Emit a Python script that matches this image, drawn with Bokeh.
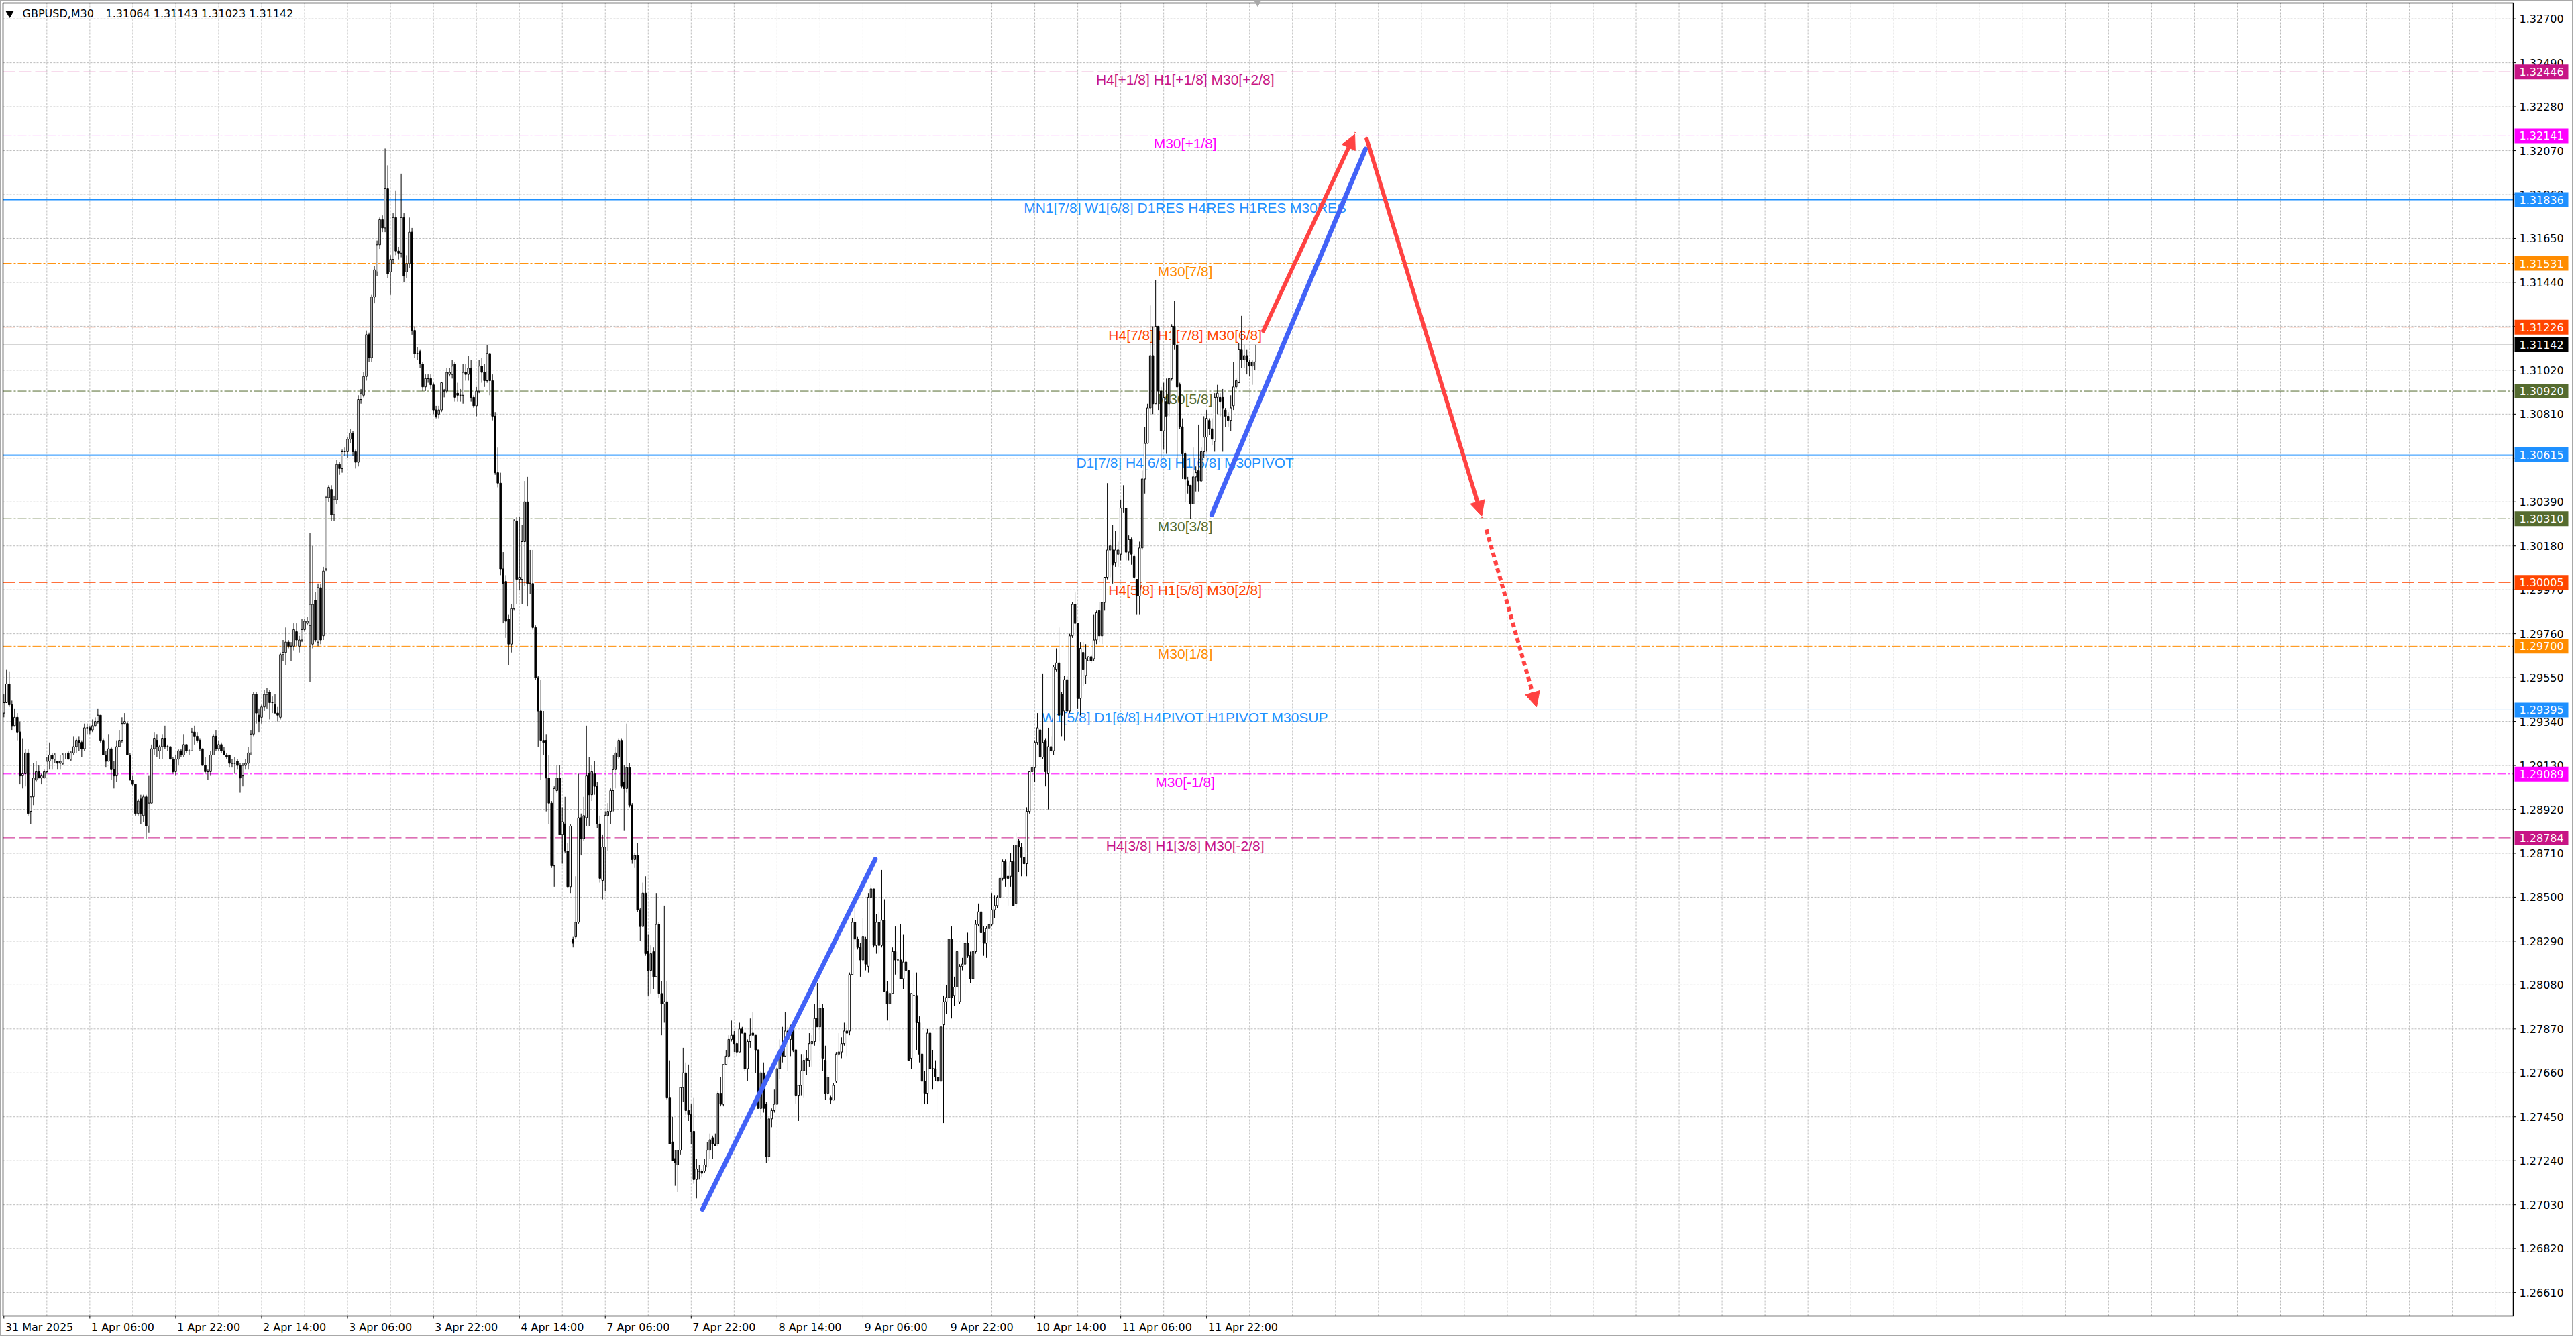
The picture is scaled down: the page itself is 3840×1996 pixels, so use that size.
from bokeh.plotting import figure
from bokeh.models import Range1d, ColumnDataSource, Arrow, NormalHead
from bokeh.core.properties import value
from bokeh.embed import file_html
from bokeh.resources import INLINE

# ---------------- data ----------------
BASE = 1.2
PIP = 0.0001
# M30 bars, (open, high, low, close) in pips above 1.2000
week1_ohlc = [
    # 0
    (938,947,936,943),(943,959,943,952),(952,958,941,942),(942,944,930,932),(932,940,932,936),(936,938,925,929),(929,934,904,908),(908,926,902,909),(909,921,903,919),(919,921,889,890),
    # 10
    (891,898,885,898),(898,914,894,907),(906,915,905,910),(910,913,907,907),(907,909,904,908),(907,911,907,910),(910,917,909,915),(915,924,911,918),(918,919,911,916),(916,919,914,918),
    # 20
    (915,915,911,914),(914,918,911,915),(914,919,913,918),(918,919,916,918),(919,920,916,916),(916,920,915,919),(919,927,918,922),(922,926,919,925),(925,927,920,924),(924,925,917,921),
    # 30
    (921,933,920,931),(931,933,928,931),(931,932,928,930),(930,935,929,932),(932,936,932,934),(934,940,933,937),(937,937,924,925),(925,926,918,918),(918,920,912,915),(915,928,915,921),
    # 40
    (921,922,906,911),(911,915,902,908),(908,925,905,922),(922,930,922,925),(925,936,924,933),(933,938,933,934),(933,934,918,918),(918,919,906,906),(906,908,903,904),(904,904,889,890),
    # 50
    (890,897,889,896),(897,899,885,890),(889,899,886,898),(898,899,878,884),(884,908,881,895),(895,923,895,921),(921,929,918,926),(925,928,917,922),(920,923,916,922),(922,928,916,926),
    # 60
    (926,932,921,922),(922,923,920,922),(922,922,916,916),(916,917,909,910),(910,918,908,916),(916,921,913,920),(920,921,917,918),(918,928,917,923),(923,923,919,920),(920,921,918,920),
    # 70
    (920,931,920,929),(929,932,923,927),(927,929,924,925),(925,926,920,921),(921,921,913,913),(913,917,909,910),(910,911,906,910),(910,920,908,918),(918,928,918,927),(927,930,920,921),
    # 80
    (921,925,920,923),(923,924,919,920),(920,922,918,918),(918,919,916,917),(918,918,912,914),(914,916,912,914),(914,917,909,914),(915,916,911,913),(913,914,900,907),(908,914,903,913),
    # 90
    (913,916,911,914),(914,922,911,919),(919,930,918,928),(928,948,927,947),(947,948,933,938),(937,940,929,934),(936,942,933,941),(941,949,939,947),(947,950,940,948),(948,949,935,943),
    # 100
    (943,946,938,943),(942,947,938,938),(938,941,934,937),(936,967,935,966),(966,973,963,967),(967,979,961,972),(972,973,969,970),(970,972,963,970),(970,981,968,978),(977,981,970,973),
    # 110
    (970,975,967,973),(973,983,972,978),(978,983,977,982),(981,984,980,982),(980,1024,953,990),(971,1018,969,990),(992,996,972,973),(972,1000,970,998),(998,1000,971,973),(975,1008,973,1006),
    # 120
    (1007,1042,1006,1041),(1041,1047,1039,1046),(1045,1047,1030,1033),(1033,1042,1030,1040),(1040,1059,1038,1057),(1057,1058,1052,1055),(1055,1064,1053,1063),(1063,1065,1061,1063),(1063,1070,1060,1069),(1069,1074,1067,1072),
    # 130
    (1072,1073,1061,1063),(1063,1064,1055,1058),(1058,1090,1056,1088),(1088,1093,1086,1091),(1090,1101,1089,1099),(1099,1121,1097,1119),(1119,1120,1106,1108),(1108,1138,1106,1137),(1137,1152,1134,1150),(1149,1164,1147,1162),
    # 140
    (1162,1175,1160,1174),(1174,1176,1168,1170),(1170,1208,1168,1189),(1189,1200,1146,1148),(1149,1157,1138,1155),(1155,1177,1153,1175),(1175,1188,1157,1159),(1159,1161,1155,1158),(1158,1196,1156,1175),(1175,1177,1144,1147),
    # 150
    (1149,1157,1146,1153),(1153,1175,1151,1168),(1168,1170,1119,1121),(1121,1123,1108,1110),(1110,1113,1107,1110),(1111,1112,1103,1105),(1105,1106,1092,1094),(1094,1100,1092,1098),(1098,1100,1096,1098),(1098,1100,1093,1095),
    # 160
    (1095,1096,1081,1083),(1083,1085,1079,1080),(1081,1085,1079,1083),(1083,1096,1082,1096),(1092,1093,1089,1092),(1092,1103,1091,1101),(1100,1103,1099,1101),(1100,1107,1098,1104),(1105,1106,1087,1089),(1091,1096,1087,1090),
    # 170
    (1090,1093,1087,1090),(1090,1105,1086,1101),(1101,1105,1097,1100),(1100,1109,1097,1103),(1103,1107,1087,1089),(1089,1090,1084,1085),(1085,1094,1080,1092),(1092,1107,1091,1104),(1104,1108,1096,1101),(1101,1105,1094,1097),
    # 180
    (1097,1114,1096,1110),(1110,1110,1090,1097),(1097,1100,1078,1080),(1080,1082,1052,1053),(1053,1065,1046,1048),(1048,1053,1004,1007),(1007,1015,981,1000),(1001,1004,974,982),(983,985,961,971),(971,990,967,988),
    # 190
    (988,1031,987,1030),(1030,1032,990,1002),(1002,1032,997,1003),(1002,1028,990,1020),(1020,1049,999,1039),(1039,1051,989,1000),(1000,1016,995,1000),(1000,1016,978,979),(979,980,954,955),(955,956,922,939),
    # 200
    (939,954,906,925),(925,939,918,924),(925,928,891,907),(907,918,885,895),(895,896,864,865),(865,903,855,902),(901,913,900,907),(907,913,880,880),(880,893,866,886),(885,898,871,872),
    # 210
    (872,876,855,855),(855,885,852,884),
]
week2_ohlc = [
    # 212
    (830,831,826,828),(831,860,830,838),(838,909,837,888),(888,890,870,878),(878,898,877,889),(888,932,884,908),(909,917,884,899),(899,913,896,910),
    # 220
    (909,915,899,903),(903,905,883,885),(885,889,857,859),(858,880,849,874),(874,891,853,889),(889,895,872,891),(891,902,885,901),(901,918,891,911),(911,922,902,919),(917,926,916,925),
    # 230
    (925,926,902,903),(905,913,882,902),(902,933,900,912),(912,914,893,894),(894,895,866,868),(868,871,864,870),(870,876,843,844),(844,845,829,836),(836,857,836,852),(852,860,822,823),
    # 240
    (824,832,803,815),(815,827,804,823),(824,826,806,812),(812,852,812,837),(837,838,802,804),(804,810,784,799),(799,846,790,800),(800,810,753,754),(754,772,732,732),(733,745,724,724),
    # 250
    (725,729,712,723),(722,729,709,729),(729,759,727,759),(759,778,752,766),(766,771,746,748),(748,770,743,746),(746,751,732,738),(738,754,713,715),(715,725,706,720),(719,722,715,719),
    # 260
    (719,720,716,718),(719,725,718,722),(721,733,721,729),(729,737,725,734),(735,736,725,732),(732,737,731,731),(732,757,731,756),(756,764,750,751),(751,770,750,770),(770,777,770,774),
    # 270
    (774,784,773,782),(782,791,781,784),(784,786,776,780),(780,781,774,776),(776,790,776,787),(787,788,785,785),(785,785,767,768),(768,782,762,781),(781,792,778,784),(785,795,784,784),
    # 280
    (784,784,766,777),(777,777,749,749),(749,767,744,766),(766,771,747,749),(751,752,723,726),(726,745,724,744),(744,749,740,748),(748,758,747,751),(751,769,751,768),(768,782,763,777),
    # 290
    (777,788,771,774),(774,795,774,786),(786,788,767,782),(782,789,774,788),(788,789,776,777),(777,777,751,755),(755,760,743,760),(760,775,755,767),(767,775,754,772),(773,777,765,772),
    # 300
    (772,785,769,780),(780,784,769,781),(781,799,779,792),(792,809,788,788),(788,801,781,797),(797,799,767,773),(772,779,753,756),(756,765,755,764),(754,755,751,753),(753,761,753,760),
    # 310
    (762,776,761,775),(775,785,774,776),(776,783,773,780),(780,790,779,786),(786,789,774,785),(786,814,784,813),(813,840,813,838),(838,845,825,830),(830,831,825,826),(826,828,812,820),
    # 320
    (820,840,819,831),(830,831,815,818),(817,852,814,850),(850,856,849,854),(854,854,826,827),(827,842,823,838),(838,843,823,827),(827,863,826,839),(839,849,805,805),(805,810,791,799),
    # 330
    (799,805,786,804),(804,826,804,824),(824,836,813,820),(820,824,814,820),(820,837,811,811),(811,832,806,819),(819,825,814,815),(815,815,772,772),(773,804,768,804),(803,814,803,803),
    # 340
    (803,814,777,790),(790,793,771,775),(775,777,750,762),(762,767,751,756),(756,787,751,785),(785,787,767,768),(768,777,758,768),(768,772,762,764),(764,767,742,762),(762,820,761,788),
    # 350
    (789,803,742,800),(800,808,794,802),(802,837,801,830),(830,836,792,802),(803,812,798,807),(807,825,806,824),(800,818,799,817),(817,821,815,818),(818,832,804,828),(828,833,821,822),
    # 360
    (822,824,809,811),(811,825,810,824),(824,839,823,837),(837,847,836,843),(843,844,823,833),(833,836,822,828),(828,836,821,835),(835,839,826,837),(837,852,836,844),(844,851,840,846),
    # 370
    (846,851,845,850),(850,860,849,859),(859,868,858,867),(867,868,855,859),(860,865,846,859),(860,871,855,867),(867,875,846,846),(847,881,845,875),(877,878,862,874),(874,876,860,869),
    # 380
    (869,878,861,866),(866,893,860,891),(891,910,890,910),(910,913,901,912),(912,925,905,924),(924,938,923,931),(930,933,916,917),(917,957,916,924),(925,926,903,910),(909,931,892,922),
    # 390
    (922,927,919,920),(920,961,918,960),(959,969,958,962),(962,979,937,937),(947,948,927,937),(939,956,925,954),(954,956,938,939),(939,976,938,975),(975,991,974,990),(990,996,975,981),
    # 400
    (981,981,940,945),(945,972,937,969),(967,972,951,959),(956,971,952,964),(963,965,963,965),(965,966,962,963),(964,985,963,973),(973,987,971,986),(987,991,972,975),(975,991,971,991),
    # 410
    (991,1003,987,1003),(1003,1048,1002,1016),(1016,1021,1003,1018),(1016,1028,1000,1009),(1010,1025,1008,1016),(1014,1020,1008,1016),(1014,1040,1011,1036),(1036,1047,1034,1036),(1036,1036,1011,1015),(1015,1023,1011,1021),
    # 420
    (1021,1022,1009,1014),(1013,1014,1002,1003),(1002,1002,985,994),(994,1020,985,1017),(1017,1054,1016,1050),(1050,1075,1043,1067),(1067,1086,1067,1084),(1084,1133,1081,1109),(1109,1123,1081,1086),(1086,1145,1086,1123),
    # 430
    (1123,1123,1083,1092),(1092,1094,1060,1073),(1073,1096,1064,1089),(1087,1098,1062,1080),(1086,1098,1080,1098),(1098,1124,1097,1123),(1123,1135,1112,1114),(1114,1115,1060,1094),(1095,1096,1074,1075),(1075,1079,1050,1062),
    # 440
    (1062,1063,1039,1050),(1049,1051,1043,1047),(1047,1047,1031,1038),(1038,1065,1038,1051),(1051,1056,1044,1053),(1054,1076,1044,1049),(1049,1065,1049,1063),(1063,1080,1060,1070),(1070,1083,1063,1079),(1078,1079,1071,1074),
    # 450
    (1074,1079,1066,1069),(1068,1091,1063,1089),(1089,1095,1081,1091),(1089,1091,1080,1087),(1089,1093,1063,1084),(1083,1084,1075,1080),(1080,1082,1075,1078),(1078,1090,1073,1084),(1085,1106,1083,1094),(1094,1098,1093,1097),
    # 460
    (1096,1115,1096,1112),(1112,1128,1103,1107),(1107,1114,1103,1109),(1109,1112,1100,1106),(1106,1107,1099,1104),(1104,1107,1095,1106),(1106,1114,1102,1114),
]

# price scale ticks
price_ticks = [1.32700, 1.32490, 1.32280, 1.32070, 1.31860, 1.31650, 1.31440, 1.31230, 1.31020, 1.30810,
               1.30600, 1.30390, 1.30180, 1.29970, 1.29760, 1.29550, 1.29340, 1.29130, 1.28920, 1.28710,
               1.28500, 1.28290, 1.28080, 1.27870, 1.27660, 1.27450, 1.27240, 1.27030, 1.26820, 1.26610]
# time scale: bar index of each label
time_tick_bars = [0, 32, 64, 96, 128, 160, 192, 224, 256, 288, 320, 352, 384, 416, 448]
time_tick_labels = ["31 Mar 2025", "1 Apr 06:00", "1 Apr 22:00", "2 Apr 14:00", "3 Apr 06:00",
                    "3 Apr 22:00", "4 Apr 14:00", "7 Apr 06:00", "7 Apr 22:00", "8 Apr 14:00",
                    "9 Apr 06:00", "9 Apr 22:00", "10 Apr 14:00", "11 Apr 06:00", "11 Apr 22:00"]
grid_step_bars = 16

# Murrey-math style levels
level_prices = [1.32446, 1.32141, 1.31836, 1.31531, 1.31226, 1.30920, 1.30615,
                1.30310, 1.30005, 1.29700, 1.29395, 1.29089, 1.28784]
level_names = ["H4[+1/8] H1[+1/8] M30[+2/8]", "M30[+1/8]",
               "MN1[7/8] W1[6/8] D1RES H4RES H1RES M30RES", "M30[7/8]",
               "H4[7/8] H1[7/8] M30[6/8]", "M30[5/8]", "D1[7/8] H4[6/8] H1[6/8] M30PIVOT",
               "M30[3/8]", "H4[5/8] H1[5/8] M30[2/8]", "M30[1/8]",
               "W1[5/8] D1[6/8] H4PIVOT H1PIVOT M30SUP", "M30[-1/8]", "H4[3/8] H1[3/8] M30[-2/8]"]
level_colors = ["#C71585", "#FF00FF", "#1E90FF", "#FF8C00", "#FF4500", "#556B2F", "#1E90FF",
                "#556B2F", "#FF4500", "#FF8C00", "#1E90FF", "#FF00FF", "#C71585"]
level_styles = ["dash", "dashdot", "solid", "dashdot", "dash", "dashdot", "solid",
                "dashdot", "dash", "dashdot", "solid", "dashdot", "dash"]
level_widths = [1, 1, 2, 1, 1, 1, 1, 1, 1, 1, 1, 1, 1]
level_label_bar = 440.0

current_price = 1.31142
title_symbol = "GBPUSD,M30"
title_quotes = "1.31064 1.31143 1.31023 1.31142"

# drawn forecast lines (bar index, price)
blue_x0 = [260.2, 449.9]
blue_y0 = [1.27008, 1.30329]
blue_x1 = [324.6, 507.2]
blue_y1 = [1.28682, 1.32078]
red_x0 = [469.1, 507.6]
red_y0 = [1.31208, 1.32127]
red_x1 = [503.2, 550.5]
red_y1 = [1.32149, 1.30323]
dot_x0 = [552.2]
dot_y0 = [1.30258]
dot_x1 = [570.9]
dot_y1 = [1.29410]
shift_marker_bar = 467

# ---------------- scales ----------------
W, H = 3836, 1992
PX_PER_BAR = 4.002
PX_PER_PRICE = 31173.0
XS = -5.3 / PX_PER_BAR                 # bar coordinate of the canvas left edge
YT = 1.31836 + 297 / PX_PER_PRICE      # price at the canvas top edge
XE = XS + W / PX_PER_BAR
YB = YT - H / PX_PER_PRICE


def bx(px):   # pixel offset -> bar units
    return XS + px / PX_PER_BAR


def py(px):   # pixel offset from top -> price
    return YT - px / PX_PER_PRICE


CH_L, CH_R = bx(4), bx(3746)      # chart area borders
CH_T, CH_B = py(4), py(1961)

FONT = "DejaVu Sans"
RED = "#FF4242"
BLUE = "#4262F7"
GRID = "#BDBDBD"

p = figure(frame_width=W, frame_height=H, x_range=Range1d(XS, XE), y_range=Range1d(YB, YT),
           x_axis_type=None, y_axis_type=None, output_backend="svg", toolbar_location=None,
           min_border=0, background_fill_color="white", border_fill_color="white",
           outline_line_color="#A8A8A8", outline_line_width=3)
p.grid.visible = False

# grid (inside chart area only)
grid_bars = [g for g in range(grid_step_bars, int(CH_R), grid_step_bars)]
p.segment(x0=grid_bars, y0=[CH_B] * len(grid_bars), x1=grid_bars, y1=[CH_T] * len(grid_bars),
          line_color=GRID, line_dash="3 2", line_width=1)
p.segment(x0=[CH_L] * len(price_ticks), y0=price_ticks, x1=[CH_R] * len(price_ticks), y1=price_ticks,
          line_color=GRID, line_dash="3 2", line_width=1)

# levels
dash_map = {"dash": "18 6", "dashdot": "13 3 3 3", "solid": "solid"}
for lv, col, st, w in zip(level_prices, level_colors, level_styles, level_widths):
    p.segment(x0=[CH_L], y0=[lv], x1=[CH_R], y1=[lv], line_color=col, line_width=w,
              line_dash=dash_map[st])
p.segment(x0=[CH_L], y0=[current_price], x1=[CH_R], y1=[current_price], line_color="#C0C0C0",
          line_width=1)
p.text(x=[level_label_bar] * len(level_prices), y=level_prices, text=level_names,
       text_color=level_colors, text_align="center", text_baseline="top", y_offset=0,
       text_font=value("Liberation Sans"), text_font_size="21px")

# candles
bars = week1_ohlc + week2_ohlc
idx = list(range(len(bars)))
o = [BASE + b[0] * PIP for b in bars]
c = [BASE + b[3] * PIP for b in bars]
hi = [BASE + max(b) * PIP for b in bars]
lo = [BASE + min(b) * PIP for b in bars]
top = [max(a, b) for a, b in zip(o, c)]
bot = [min(a, b) for a, b in zip(o, c)]
fill = ["white" if cc >= oo else "black" for oo, cc in zip(o, c)]
src = ColumnDataSource(dict(x=idx, h=hi, l=lo, top=top, bot=bot, fill=fill))
p.segment(x0="x", y0="h", x1="x", y1="l", line_color="black", line_width=1, source=src)
p.vbar(x="x", width=0.62, top="top", bottom="bot", fill_color="fill", line_color="black",
       line_width=1, source=src)

# forecast drawings
p.segment(x0=blue_x0, y0=blue_y0, x1=blue_x1, y1=blue_y1, line_color=BLUE, line_width=7,
          line_cap="round")
red_src = ColumnDataSource(dict(x0=red_x0, y0=red_y0, x1=red_x1, y1=red_y1))
p.add_layout(Arrow(end=NormalHead(size=22, fill_color=RED, line_color=RED, line_width=1),
                   x_start="x0", y_start="y0", x_end="x1", y_end="y1", source=red_src,
                   line_color=RED, line_width=6, line_cap="round"))
dot_src = ColumnDataSource(dict(x0=dot_x0, y0=dot_y0, x1=dot_x1, y1=dot_y1))
p.add_layout(Arrow(end=NormalHead(size=22, fill_color=RED, line_color=RED, line_width=1),
                   x_start="x0", y_start="y0", x_end="x1", y_end="y1", source=dot_src,
                   line_color=RED, line_width=6, line_dash="7 5"))

# chart area border
p.line(x=[CH_L, CH_R, CH_R, CH_L, CH_L], y=[CH_T, CH_T, CH_B, CH_B, CH_T], line_color="black",
       line_width=1.5)
# chart-shift marker at the top edge
p.scatter(x=[shift_marker_bar], y=[py(2)], marker="inverted_triangle", size=12, color="#A8A8A8")

# price scale (right)
tick_len = 4 / PX_PER_BAR
p.segment(x0=[CH_R] * len(price_ticks), y0=price_ticks, x1=[CH_R + tick_len] * len(price_ticks),
          y1=price_ticks, line_color="black", line_width=1)
p.text(x=[bx(3755)] * len(price_ticks), y=price_ticks, text=["%.5f" % t for t in price_ticks],
       text_align="left", text_baseline="middle", text_font=value(FONT), text_font_size="16px",
       text_color="black")

# coloured price boxes on the scale
box_prices = level_prices + [current_price]
box_colors = level_colors + ["black"]
half = 11 / PX_PER_PRICE
p.quad(left=[bx(3748)] * len(box_prices), right=[bx(3828)] * len(box_prices),
       top=[b + half for b in box_prices], bottom=[b - half for b in box_prices],
       fill_color=box_colors, line_color=None)
p.text(x=[bx(3755)] * len(box_prices), y=box_prices, text=["%.5f" % b for b in box_prices],
       text_align="left", text_baseline="middle", text_font=value(FONT), text_font_size="16px",
       text_color="white")

# time scale (bottom)
p.segment(x0=time_tick_bars, y0=[CH_B] * len(time_tick_bars), x1=time_tick_bars,
          y1=[CH_B - 4 / PX_PER_PRICE] * len(time_tick_bars), line_color="black", line_width=1)
p.text(x=[max(t, CH_L) for t in time_tick_bars], y=[py(1978)] * len(time_tick_bars),
       text=time_tick_labels, x_offset=2, text_align="left", text_baseline="middle",
       text_font=value(FONT), text_font_size="16px", text_color="black")

# chart caption
p.scatter(x=[bx(14)], y=[py(19.5)], marker="inverted_triangle", size=11, color="black")
p.text(x=[bx(33), bx(157)], y=[py(19.5)] * 2, text=[title_symbol, title_quotes],
       text_align="left", text_baseline="middle", text_font=value(FONT), text_font_size="16px",
       text_color="black")

open("out.html", "w").write(file_html(p, INLINE))
